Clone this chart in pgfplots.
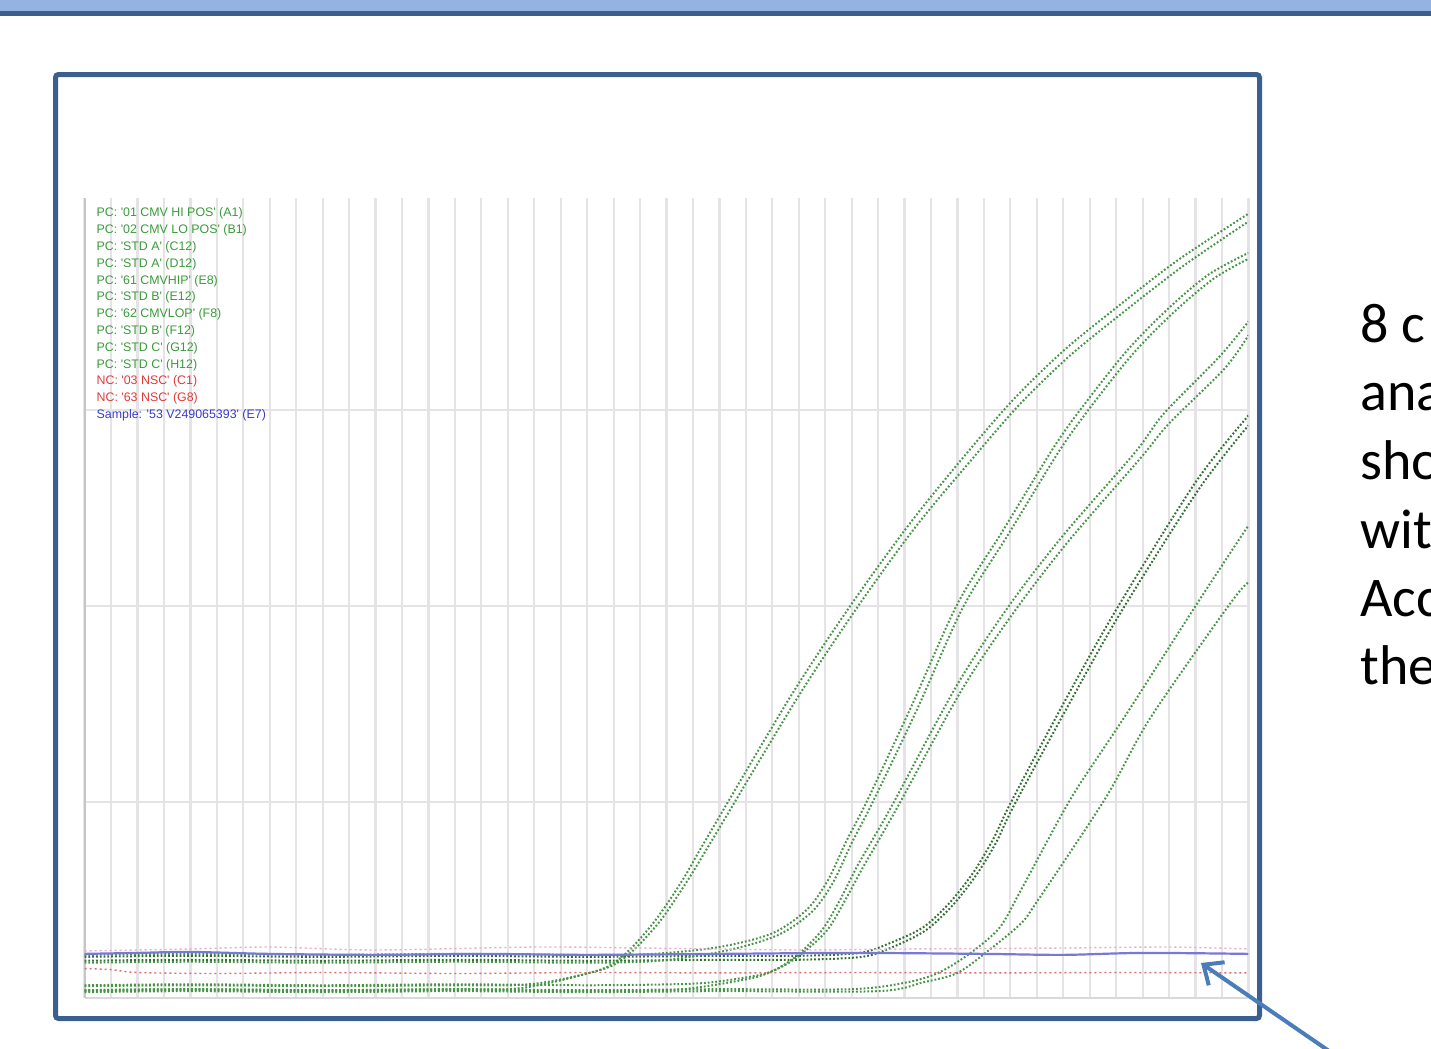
\documentclass[border=0pt]{standalone}
\usepackage{fontspec}
\usepackage{pgfplots}
\pgfplotsset{compat=1.18}
\usetikzlibrary{arrows.meta}
\newfontfamily\legfont{Liberation Sans}
\newfontfamily\slidefont{Carlito}
\definecolor{barlight}{HTML}{95B3E1}
\definecolor{bardark}{HTML}{3B5E8C}
\definecolor{frameblue}{HTML}{3B5F8E}
\definecolor{arrowblue}{HTML}{4A7EBB}
\definecolor{pcg}{HTML}{469446}
\definecolor{pcgd}{HTML}{2F6F2F}
\definecolor{legg}{HTML}{3A9A3A}
\definecolor{legr}{HTML}{E03A3A}
\definecolor{legb}{HTML}{3A3AC8}
\definecolor{ncred}{HTML}{E06A6A}
\definecolor{ncpink}{HTML}{E8A8C8}
\definecolor{sblue}{HTML}{7878D8}
\definecolor{gridc}{HTML}{E6E3E7}
\begin{document}
\begin{tikzpicture}
\begin{scope}[x=0.5pt,y=-0.5pt]
\fill[barlight] (0,0) rectangle (1431,10.5);
\fill[bardark] (0,10.5) rectangle (1431,15.5);
\begin{scope}
\clip (0,0) rectangle (1431,1049);
\foreach \t/\yy in {8 c/342,ana/410,sho/479,wit/548,Acc/616,the/684}{
  \node[anchor=base west, font=\slidefont\fontsize{28}{34}\selectfont, inner sep=0pt] at (1360,\yy) {\t};
}
\end{scope}
\end{scope}
\begin{axis}[
 at={(42.3pt,-499pt)}, anchor=south west,
 scale only axis, width=581.9pt, height=400pt,
 xmin=1, xmax=45, ymin=0, ymax=4.08,
 xtick={1,...,45}, ytick={1,2,3},
 xticklabels={}, yticklabels={},
 major tick length=0pt,
 grid=major, major grid style={gridc, line width=1.1pt},
 separate axis lines,
 axis x line*=bottom, axis y line*=left,
 x axis line style={gray!30, line width=1.2pt, -},
 y axis line style={gray!45, line width=1pt, -},
 legend style={at={(0.009,0.99)}, anchor=north west, draw=none, fill=none,
   font=\legfont\fontsize{6.2}{7}\selectfont, inner sep=0pt, row sep=1.3pt,
   nodes={inner sep=0.6pt, text height=4.6pt, text depth=1.3pt}},
 legend image code/.code={},
 legend cell align=left,
 pcline/.style={pcg, line width=1pt, dash pattern=on 0.9pt off 1pt, smooth},
]
% 1 D1
\addplot[pcline, pcgd] coordinates {(1,0.21)(5,0.215)(10,0.21)(15,0.215)(20,0.21)(25,0.215)(28,0.215)(30.3,0.23)(31.45,0.28)(32.7,0.36)(33.7,0.485)(34.6,0.64)(35.35,0.81)(36.03,1.0)(38,1.5)(40,1.98)(43,2.63)(45,2.97)};
\addlegendentry{\textcolor{legg}{PC: '01 CMV HI POS' (A1)}}
% 2 E
\addplot[pcline] coordinates {(1,0.04)(5,0.045)(10,0.04)(15,0.045)(20,0.04)(25,0.045)(30,0.045)(32.1,0.08)(33.3,0.13)(34.5,0.23)(35.6,0.36)(36.4,0.55)(38.3,1.02)(40.3,1.43)(43.1,2.02)(45,2.41)};
\addlegendentry{\textcolor{legg}{PC: '02 CMV LO POS' (B1)}}
% 3 A1
\addplot[pcline] coordinates {(1,0.04)(5,0.045)(10,0.04)(15,0.045)(17,0.045)(18.2,0.066)(19.5,0.107)(20.75,0.158)(21.6,0.245)(22.6,0.40)(23.6,0.60)(24.5,0.81)(27.7,1.54)(30,2.01)(32.2,2.42)(34.3,2.77)(36.1,3.05)(38,3.30)(40,3.52)(42.3,3.76)(45,4.00)};
\addlegendentry{\textcolor{legg}{PC: 'STD A' (C12)}}
% 4 A2
\addplot[pcline] coordinates {(1,0.06)(5,0.065)(10,0.06)(15,0.065)(17.2,0.065)(18.4,0.08)(19.7,0.115)(20.95,0.165)(21.8,0.25)(22.8,0.40)(23.8,0.60)(24.7,0.80)(27.9,1.52)(30.2,1.99)(32.4,2.40)(34.5,2.74)(36.3,3.02)(38.2,3.27)(40.2,3.49)(42.5,3.73)(45,3.96)};
\addlegendentry{\textcolor{legg}{PC: 'STD A' (D12)}}
% 5 D2
\addplot[pcline, pcgd] coordinates {(1,0.19)(5,0.195)(10,0.19)(15,0.195)(20,0.19)(25,0.195)(28,0.195)(30.4,0.21)(31.55,0.26)(32.8,0.345)(33.8,0.47)(34.7,0.625)(35.45,0.79)(36.13,0.98)(38.1,1.47)(40.1,1.95)(43.1,2.59)(45,2.92)};
\addlegendentry{\textcolor{legg}{PC: '61 CMVHIP' (E8)}}
% 6 B1
\addplot[pcline] coordinates {(1,0.22)(5,0.225)(10,0.22)(15,0.225)(20,0.22)(22.5,0.225)(25,0.26)(27,0.33)(28.3,0.45)(29.1,0.60)(29.8,0.80)(30.6,1.01)(32.3,1.50)(34,2.01)(35.7,2.38)(37.6,2.80)(38.7,3.01)(40.4,3.30)(42,3.52)(43.5,3.69)(45,3.80)};
\addlegendentry{\textcolor{legg}{PC: 'STD B' (E12)}}
% 7 F
\addplot[pcline] coordinates {(1,0.03)(5,0.035)(10,0.03)(15,0.035)(20,0.03)(25,0.035)(31,0.035)(32.7,0.08)(34,0.128)(35.2,0.245)(36.4,0.38)(37,0.49)(39.6,1.02)(41.3,1.43)(44.3,2.01)(45,2.12)};
\addlegendentry{\textcolor{legg}{PC: '62 CMVLOP' (F8)}}
% 8 B2
\addplot[pcline] coordinates {(1,0.18)(5,0.185)(10,0.18)(15,0.185)(20,0.18)(22.7,0.19)(25.2,0.24)(27.2,0.32)(28.5,0.44)(29.3,0.59)(30,0.79)(30.8,1.0)(32.5,1.48)(34.2,1.99)(35.9,2.36)(37.8,2.78)(38.9,2.99)(40.6,3.28)(42.2,3.50)(43.7,3.67)(45,3.77)};
\addlegendentry{\textcolor{legg}{PC: 'STD B' (F12)}}
% 9 C1
\addplot[pcline] coordinates {(1,0.035)(5,0.04)(10,0.035)(15,0.04)(20,0.035)(23,0.04)(24.5,0.06)(26.4,0.107)(27.3,0.158)(28.05,0.23)(28.9,0.35)(29.56,0.5)(30.2,0.67)(30.8,0.81)(31.6,1.0)(34,1.6)(36,2.01)(38,2.36)(40.7,2.78)(41.8,2.98)(43.9,3.27)(45,3.45)};
\addlegendentry{\textcolor{legg}{PC: 'STD C' (G12)}}
% 10 C2
\addplot[pcline] coordinates {(1,0.065)(5,0.07)(10,0.065)(15,0.07)(20,0.065)(23.2,0.07)(24.7,0.08)(26.6,0.12)(27.5,0.17)(28.25,0.24)(29.1,0.35)(29.76,0.5)(30.4,0.66)(31,0.8)(31.8,0.99)(34.2,1.58)(36.2,1.98)(38.2,2.33)(40.9,2.75)(42,2.93)(44.1,3.21)(45,3.38)};
\addlegendentry{\textcolor{legg}{PC: 'STD C' (H12)}}
% 11 NC C1
\addplot[ncred, line width=0.7pt, dash pattern=on 1pt off 1.5pt, smooth] coordinates {(1,0.15)(2,0.145)(3,0.13)(6,0.125)(10,0.13)(15,0.125)(20,0.13)(25,0.128)(30,0.13)(35,0.128)(40,0.13)(45,0.128)};
\addlegendentry{\textcolor{legr}{NC: '03 NSC' (C1)}}
% 12 NC G8
\addplot[ncpink, line width=0.7pt, dash pattern=on 1pt off 1.5pt, smooth] coordinates {(1,0.24)(5,0.25)(8,0.26)(12,0.245)(18,0.26)(22,0.255)(28,0.245)(32,0.25)(38,0.255)(42,0.26)(45,0.25)};
\addlegendentry{\textcolor{legr}{NC: '63 NSC' (G8)}}
% 13 Sample
\addplot[sblue, line width=1.1pt, smooth] coordinates {(1,0.225)(3,0.23)(5,0.235)(8,0.225)(12,0.22)(16,0.225)(20,0.22)(25,0.225)(30,0.23)(35,0.225)(38,0.22)(41,0.23)(45,0.225)};
\addlegendentry{\textcolor{legb}{Sample: '53 V249065393' (E7)}}
\end{axis}
\begin{scope}[x=0.5pt,y=-0.5pt]
\draw[frameblue, line width=2.5pt, rounded corners=1.5pt] (55.5,74.5) rectangle (1259.5,1018.5);
\begin{scope}
\clip (0,0) rectangle (1431,1049);
\draw[arrowblue, line width=2pt, -{Straight Barb[length=8pt,width=14pt]}] (1345,1062) -- (1201,963);
\end{scope}
\end{scope}
\pgfresetboundingbox
\path[use as bounding box] (0pt,0pt) rectangle (715.5pt,-524.5pt);
\end{tikzpicture}
\end{document}
